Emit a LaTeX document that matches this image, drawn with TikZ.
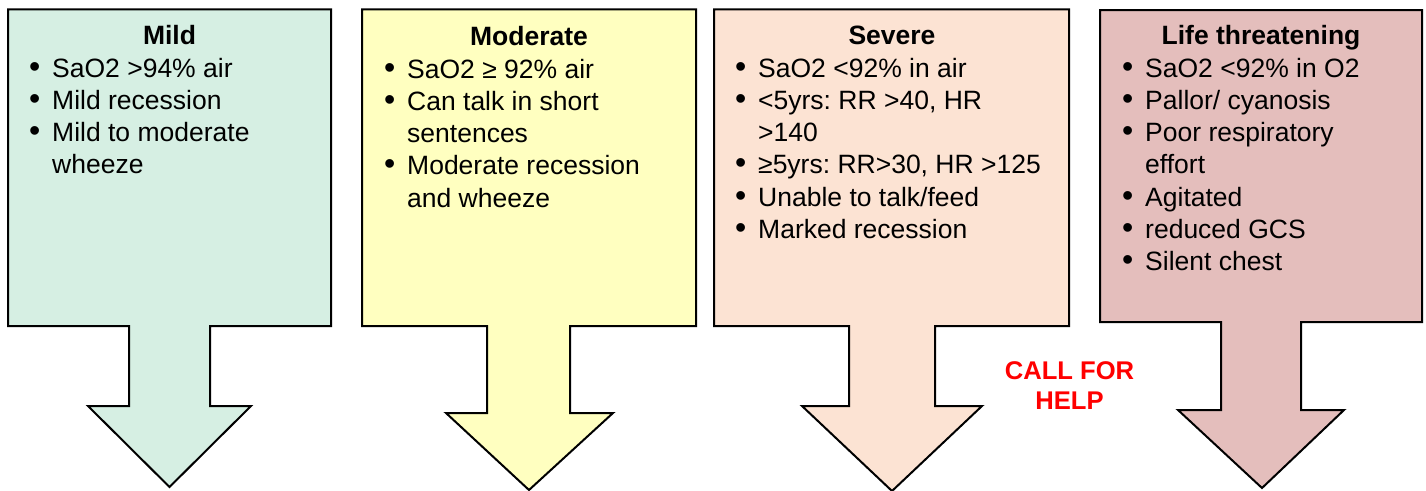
\documentclass[tikz,border=0pt]{standalone}
\usepackage{fontspec}
\setmainfont{Liberation Sans}
\frenchspacing
\definecolor{mildfill}{RGB}{214,239,227}
\definecolor{modfill}{RGB}{255,255,192}
\definecolor{sevfill}{RGB}{252,227,211}
\definecolor{lifefill}{RGB}{228,190,188}
\definecolor{helpred}{RGB}{255,0,0}
\newcommand{\bul}{\makebox[23pt][l]{\fontsize{32}{0}\selectfont\textbullet}}
\newcommand{\cont}{\hspace*{23pt}}
\begin{document}
\begin{tikzpicture}[x=1pt,y=-1pt,
  boxline/.style={draw=black, line width=2pt, line join=miter},
  titletext/.style={font=\fontsize{26.5}{32.3}\selectfont\bfseries, anchor=base, inner sep=0pt},
  listtext/.style={font=\fontsize{26.5}{32.3}\selectfont\frenchspacing, anchor=base west, inner sep=0pt},
  helptext/.style={font=\fontsize{25.6}{30}\selectfont\bfseries, text=helpred, anchor=base, inner sep=0pt}]
\useasboundingbox (0,0) rectangle (1426,490);
% Mild
\draw[boxline, fill=mildfill] (8,9.3) -- (331,9.3) -- (331,326) -- (210,326) -- (210,406) -- (251,406) -- (169.5,487) -- (88,406) -- (129,406) -- (129,326) -- (8,326) -- cycle;
% Moderate
\draw[boxline, fill=modfill] (362,9.3) -- (696,9.3) -- (696,326) -- (570,326) -- (570,413) -- (613,413) -- (529,490) -- (446,413) -- (487,413) -- (487,326) -- (362,326) -- cycle;
% Severe
\draw[boxline, fill=sevfill] (714,9.3) -- (1069,9.3) -- (1069,326) -- (935,326) -- (935,406) -- (982,406) -- (892,491) -- (802,406) -- (849,406) -- (849,326) -- (714,326) -- cycle;
% Life threatening
\draw[boxline, fill=lifefill] (1100,10) -- (1422,10) -- (1422,322) -- (1301,322) -- (1301,410) -- (1344,410) -- (1262,488) -- (1178,410) -- (1221,410) -- (1221,322) -- (1100,322) -- cycle;

\node[titletext] (t1) at (169.5,44) {Mild};
\node[titletext] (t2) at (529,45) {Moderate};
\node[titletext] (t3) at (892,44) {Severe};
\node[titletext] (t4) at (1261,44) {Life threatening};

\node[listtext] (l1) at (29,77) {\begin{tabular}[t]{@{}l@{}}
\bul SaO2 >94\% air\\
\bul Mild recession\\
\bul Mild to moderate\\
\cont wheeze
\end{tabular}};
\node[listtext] (l2) at (384,78) {\begin{tabular}[t]{@{}l@{}}
\bul SaO2 ≥ 92\% air\\
\bul Can talk in short\\
\cont sentences\\
\bul Moderate recession\\
\cont and wheeze
\end{tabular}};
\node[listtext] (l3) at (735,77) {\begin{tabular}[t]{@{}l@{}}
\bul SaO2 <92\% in air\\
\bul <5yrs: RR >40, HR\\
\cont >140\\
\bul ≥5yrs: RR>30, HR >125\\
\bul Unable to talk/feed\\
\bul Marked recession
\end{tabular}};
\node[listtext] (l4) at (1122,77) {\begin{tabular}[t]{@{}l@{}}
\bul SaO2 <92\% in O2\\
\bul Pallor/ cyanosis\\
\bul Poor respiratory\\
\cont effort\\
\bul Agitated\\
\bul reduced GCS\\
\bul Silent chest
\end{tabular}};

\node[helptext] (help) at (1069.5,379.5) {\begin{tabular}[t]{@{}c@{}}CALL FOR\\HELP\end{tabular}};
\end{tikzpicture}
\end{document}
